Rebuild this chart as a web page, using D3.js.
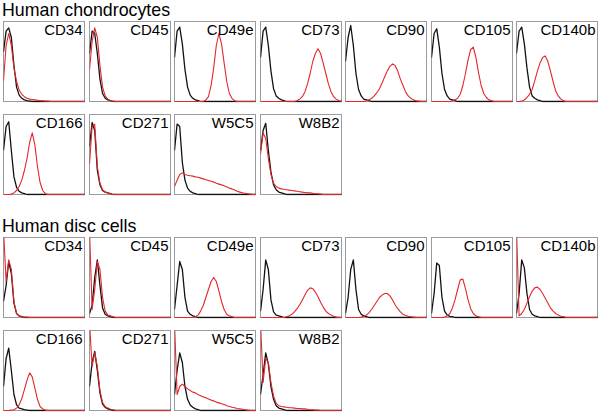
<!DOCTYPE html>
<html>
<head>
<meta charset="utf-8">
<script src="https://cdn.jsdelivr.net/npm/d3@7"></script>
<style>
  html, body { margin: 0; padding: 0; background: #fff; }
  svg { display: block; }
  text { font-family: "Liberation Sans", Arial, sans-serif; fill: #000; }
</style>
</head>
<body>
<svg id="chart" width="600" height="413"></svg>
<script>
// ---------------- DATA ----------------
// Fluorescence channel bins (32 bins across the log axis)
const channelBins = d3.range(32);

const groupTitles = ["Human chondrocytes", "Human disc cells"];
const markers = ["CD34", "CD45", "CD49e", "CD73", "CD90", "CD105", "CD140b",
                 "CD166", "CD271", "W5C5", "W8B2"];

// Relative counts (% of panel height); black = isotype control, red = marker staining
const chondroIsotype = [
  [62, 88, 92, 80, 45, 18, 8, 4, 2, 1, 0.5, 0, 0, 0, 0, 0, 0, 0, 0, 0, 0, 0, 0, 0, 0, 0, 0, 0, 0, 0, 0, 0],
  [60, 88, 85, 60, 28, 10, 4, 2, 1, 0, 0, 0, 0, 0, 0, 0, 0, 0, 0, 0, 0, 0, 0, 0, 0, 0, 0, 0, 0, 0, 0, 0],
  [55, 88, 93, 72, 40, 18, 8, 4, 2, 1, 0, 0, 0, 0, 0, 0, 0, 0, 0, 0, 0, 0, 0, 0, 0, 0, 0, 0, 0, 0, 0, 0],
  [55, 88, 93, 70, 38, 16, 7, 4, 2, 1, 0, 0, 0, 0, 0, 0, 0, 0, 0, 0, 0, 0, 0, 0, 0, 0, 0, 0, 0, 0, 0, 0],
  [50, 80, 95, 70, 35, 15, 7, 3, 2, 1, 0, 0, 0, 0, 0, 0, 0, 0, 0, 0, 0, 0, 0, 0, 0, 0, 0, 0, 0, 0, 0, 0],
  [55, 85, 91, 68, 35, 15, 7, 3, 2, 1, 0, 0, 0, 0, 0, 0, 0, 0, 0, 0, 0, 0, 0, 0, 0, 0, 0, 0, 0, 0, 0, 0],
  [60, 88, 93, 72, 42, 18, 7, 4, 2, 1, 0, 0, 0, 0, 0, 0, 0, 0, 0, 0, 0, 0, 0, 0, 0, 0, 0, 0, 0, 0, 0, 0],
  [55, 85, 91, 55, 22, 9, 4, 2, 1, 0, 0, 0, 0, 0, 0, 0, 0, 0, 0, 0, 0, 0, 0, 0, 0, 0, 0, 0, 0, 0, 0, 0],
  [60, 90, 80, 30, 12, 5, 3, 2, 1, 0, 0, 0, 0, 0, 0, 0, 0, 0, 0, 0, 0, 0, 0, 0, 0, 0, 0, 0, 0, 0, 0, 0],
  [55, 88, 85, 40, 18, 8, 4, 2, 1, 0, 0, 0, 0, 0, 0, 0, 0, 0, 0, 0, 0, 0, 0, 0, 0, 0, 0, 0, 0, 0, 0, 0],
  [55, 80, 89, 55, 28, 12, 6, 3, 2, 1, 0, 0, 0, 0, 0, 0, 0, 0, 0, 0, 0, 0, 0, 0, 0, 0, 0, 0, 0, 0, 0, 0]
];
const chondroStained = [
  [26, 70, 85, 70, 42, 25, 14, 9, 6, 4, 3, 2.5, 2, 1.5, 1, 1, 0.5, 0.5, 0, 0, 0, 0, 0, 0, 0, 0, 0, 0, 0, 0, 0, 0],
  [40, 75, 92, 80, 45, 18, 7, 3, 1, 0.5, 0, 0, 0, 0, 0, 0, 0, 0, 0, 0, 0, 0, 0, 0, 0, 0, 0, 0, 0, 0, 0, 0],
  [0, 0, 0, 0, 0, 0, 0, 0, 0, 0, 0, 0, 2, 6, 20, 42, 70, 85, 72, 48, 25, 10, 4, 1, 0, 0, 0, 0, 0, 0, 0, 0],
  [0, 0, 0, 0, 0, 0, 0, 0, 0, 0, 0, 0, 0, 0, 1, 3, 6, 12, 22, 35, 50, 60, 66, 60, 48, 35, 22, 12, 6, 3, 1, 0.5],
  [0, 0, 0, 0, 0, 0, 0, 0, 1, 2, 4, 7, 11, 16, 23, 31, 38, 44, 47, 45, 38, 28, 20, 12, 7, 4, 2, 1, 0.5, 0, 0, 0],
  [0, 0, 0, 0, 0, 0, 0, 0, 1, 2, 4, 9, 20, 35, 52, 65, 68, 55, 36, 20, 10, 5, 2, 1, 0, 0, 0, 0, 0, 0, 0, 0],
  [0, 0, 0.5, 2, 5, 9, 15, 26, 38, 48, 55, 57, 50, 38, 25, 13, 7, 3, 1, 0, 0, 0, 0, 0, 0, 0, 0, 0, 0, 0, 0, 0],
  [0, 0, 0, 0.5, 2, 5, 10, 18, 30, 45, 65, 77, 62, 35, 15, 5, 1, 0, 0, 0, 0, 0, 0, 0, 0, 0, 0, 0, 0, 0, 0, 0],
  [38, 85, 88, 35, 14, 6, 3, 2, 1, 0, 0, 0, 0, 0, 0, 0, 0, 0, 0, 0, 0, 0, 0, 0, 0, 0, 0, 0, 0, 0, 0, 0],
  [10, 18, 25, 27, 25, 24, 23.5, 23, 22, 21.5, 20.5, 19.5, 18.5, 17.5, 16.5, 15.5, 14, 13, 12, 11, 9.5, 8, 7, 5.5, 4, 3, 2, 1.5, 1, 0.5, 0, 0],
  [50, 77, 70, 45, 25, 14, 10, 8, 7, 6.5, 6, 5.5, 5, 4.5, 4, 3.5, 3, 2.5, 2, 2, 1.5, 1, 1, 0.5, 0, 0, 0, 0, 0, 0, 0, 0]
];
const discIsotype = [
  [20, 40, 70, 55, 18, 5, 2, 1, 0, 0, 0, 0, 0, 0, 0, 0, 0, 0, 0, 0, 0, 0, 0, 0, 0, 0, 0, 0, 0, 0, 0, 0],
  [5, 15, 50, 72, 40, 12, 4, 2, 1, 0, 0, 0, 0, 0, 0, 0, 0, 0, 0, 0, 0, 0, 0, 0, 0, 0, 0, 0, 0, 0, 0, 0],
  [10, 40, 70, 60, 25, 8, 4, 2, 1, 0, 0, 0, 0, 0, 0, 0, 0, 0, 0, 0, 0, 0, 0, 0, 0, 0, 0, 0, 0, 0, 0, 0],
  [8, 35, 72, 60, 22, 7, 3, 2, 1, 0, 0, 0, 0, 0, 0, 0, 0, 0, 0, 0, 0, 0, 0, 0, 0, 0, 0, 0, 0, 0, 0, 0],
  [5, 25, 60, 72, 35, 10, 4, 2, 1, 0, 0, 0, 0, 0, 0, 0, 0, 0, 0, 0, 0, 0, 0, 0, 0, 0, 0, 0, 0, 0, 0, 0],
  [5, 30, 68, 65, 25, 8, 3, 1.5, 1, 0, 0, 0, 0, 0, 0, 0, 0, 0, 0, 0, 0, 0, 0, 0, 0, 0, 0, 0, 0, 0, 0, 0],
  [5, 30, 72, 62, 30, 10, 4, 2, 1, 0, 0, 0, 0, 0, 0, 0, 0, 0, 0, 0, 0, 0, 0, 0, 0, 0, 0, 0, 0, 0, 0, 0],
  [30, 65, 78, 50, 20, 7, 3, 2, 1, 0.5, 0, 0, 0, 0, 0, 0, 0, 0, 0, 0, 0, 0, 0, 0, 0, 0, 0, 0, 0, 0, 0, 0],
  [30, 60, 74, 50, 22, 8, 4, 2, 1, 0, 0, 0, 0, 0, 0, 0, 0, 0, 0, 0, 0, 0, 0, 0, 0, 0, 0, 0, 0, 0, 0, 0],
  [20, 50, 72, 60, 30, 14, 7, 4, 2, 1, 0, 0, 0, 0, 0, 0, 0, 0, 0, 0, 0, 0, 0, 0, 0, 0, 0, 0, 0, 0, 0, 0],
  [20, 45, 72, 58, 30, 14, 6, 3, 2, 1, 0, 0, 0, 0, 0, 0, 0, 0, 0, 0, 0, 0, 0, 0, 0, 0, 0, 0, 0, 0, 0, 0]
];
const discStained = [
  [110, 45, 72, 60, 20, 5, 2, 1, 0.5, 0.5, 0, 0, 0, 0, 0, 0, 0, 0, 0, 0, 0, 0, 0, 0, 0, 0, 0, 0, 0, 0, 0, 0],
  [110, 10, 35, 70, 60, 25, 8, 3, 2, 1, 0, 0, 0, 0, 0, 0, 0, 0, 0, 0, 0, 0, 0, 0, 0, 0, 0, 0, 0, 0, 0, 0],
  [0, 0, 0, 0, 0, 0, 0, 0, 1, 3, 8, 15, 25, 35, 45, 50, 45, 33, 20, 10, 4, 2, 1, 0, 0, 0, 0, 0, 0, 0, 0, 0],
  [0, 0, 0, 0, 0, 0, 0, 0, 0, 0, 1, 2, 4, 7, 11, 16, 22, 28, 34, 37, 36, 32, 26, 19, 13, 8, 5, 3, 1.5, 0.5, 0, 0],
  [0, 0, 0, 0, 0, 0, 0.5, 1.5, 3, 6, 10, 15, 20, 25, 28, 30, 30, 27, 22, 16, 11, 7, 4, 2.5, 1.5, 1, 0.5, 0, 0, 0, 0, 0],
  [0, 0, 0, 0, 0, 0.5, 2, 5, 12, 22, 35, 47, 48, 36, 22, 11, 5, 2, 1, 0, 0, 0, 0, 0, 0, 0, 0, 0, 0, 0, 0, 0],
  [110, 2, 5, 10, 18, 26, 33, 37, 38, 35, 30, 24, 18, 12, 8, 5, 3, 1.5, 1, 0, 0, 0, 0, 0, 0, 0, 0, 0, 0, 0, 0, 0],
  [0, 0, 0, 0.5, 1, 3, 7, 15, 26, 38, 47, 42, 28, 14, 5, 2, 0.5, 0, 0, 0, 0, 0, 0, 0, 0, 0, 0, 0, 0, 0, 0, 0],
  [110, 55, 72, 55, 25, 10, 5, 3, 1.5, 1, 0, 0, 0, 0, 0, 0, 0, 0, 0, 0, 0, 0, 0, 0, 0, 0, 0, 0, 0, 0, 0, 0],
  [110, 20, 30, 33, 30, 27, 25, 23, 22, 20, 18.5, 17, 16, 14.5, 13, 12, 10.5, 9.5, 8.5, 7.5, 6, 5, 4, 3.5, 2.5, 2, 1.5, 1, 0.5, 0, 0, 0],
  [110, 35, 65, 60, 35, 18, 9, 6, 5, 4.5, 4, 3.5, 3.5, 3, 2.5, 2.5, 2, 2, 1.5, 1, 1, 0.5, 0.5, 0, 0, 0, 0, 0, 0, 0, 0, 0]
];

const groups = [
  { title: groupTitles[0], isotype: chondroIsotype, stained: chondroStained },
  { title: groupTitles[1], isotype: discIsotype, stained: discStained }
];

// ---------------- LAYOUT ----------------
const svg = d3.select("#chart");
const nCols = 7;
const panelH = 80;
const groupOffsets = [0, 216];
const titleBaseline = 15.5;
const firstRowTop = 21;
const rowStep = 92.5;

const colScale = d3.scaleBand()
  .domain(d3.range(nCols))
  .range([3, 597])
  .paddingInner(4.5 / 85.5)
  .paddingOuter(0);
const panelW = colScale.bandwidth();

const xScale = d3.scaleLinear().domain([0, channelBins.length - 1]).range([0, panelW]);
const yScale = d3.scaleLinear().domain([0, 100]).range([panelH, 0]);

const line = d3.line()
  .x((d, i) => xScale(channelBins[i]))
  .y(d => yScale(d));

const defs = svg.append("defs");

groups.forEach((g, gi) => {
  const gy = groupOffsets[gi];
  svg.append("text")
    .attr("x", 2)
    .attr("y", gy + titleBaseline)
    .style("font-size", "17.8px")
    .text(g.title);

  markers.forEach((m, mi) => {
    const row = Math.floor(mi / nCols);
    const col = mi % nCols;
    const px = Math.round(colScale(col));
    const py = Math.round(gy + firstRowTop + row * rowStep);
    const clipId = `clip-${gi}-${mi}`;
    defs.append("clipPath").attr("id", clipId)
      .append("rect").attr("x", 0).attr("y", 0)
      .attr("width", panelW + 1).attr("height", panelH + 1);

    const p = svg.append("g").attr("transform", `translate(${px + 0.5},${py + 0.5})`);

    p.append("rect")
      .attr("x", 0).attr("y", 0)
      .attr("width", panelW).attr("height", panelH)
      .attr("fill", "#fff")
      .attr("stroke", "#9b9b9b")
      .attr("stroke-width", 1);

    const plot = p.append("g").attr("clip-path", `url(#${clipId})`);
    plot.append("path")
      .datum(g.isotype[mi])
      .attr("d", line)
      .attr("fill", "none")
      .attr("stroke", "#111")
      .attr("stroke-width", 1.3)
      .attr("stroke-linejoin", "round");
    plot.append("path")
      .datum(g.stained[mi])
      .attr("d", line)
      .attr("fill", "none")
      .attr("stroke", "#e4262b")
      .attr("stroke-width", 1.1)
      .attr("stroke-linejoin", "round");

    p.append("text")
      .attr("x", panelW - 2)
      .attr("y", 13.3)
      .attr("text-anchor", "end")
      .style("font-size", "15px")
      .text(m);
  });
});
</script>
</body>
</html>
